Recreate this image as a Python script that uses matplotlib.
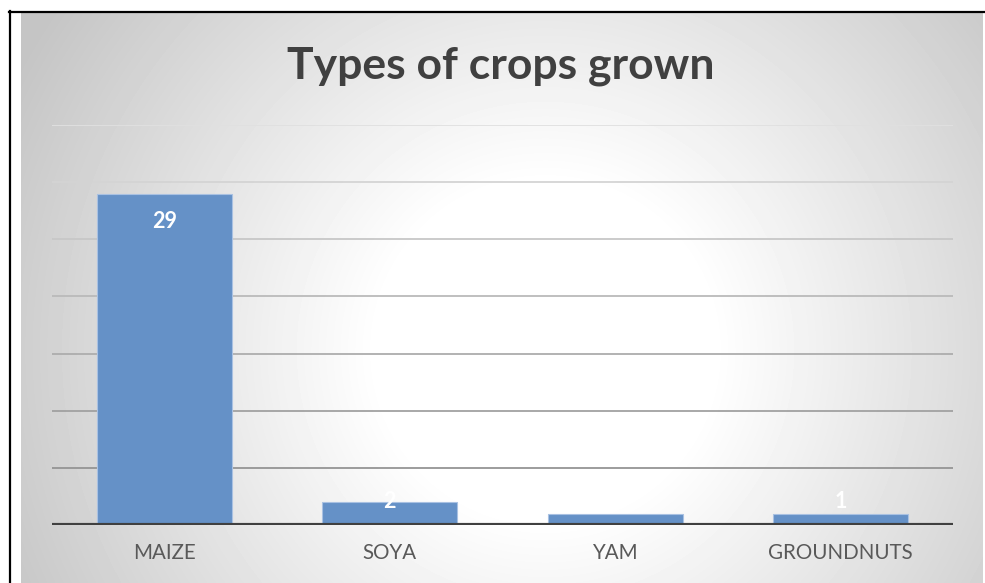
import numpy as np
import matplotlib.pyplot as plt
from matplotlib.lines import Line2D

crops = ["MAIZE", "SOYA", "YAM", "GROUNDNUTS"]
counts = [29, 2, 1, 1]
grid_levels = [5, 10, 15, 20, 25, 30, 35]

W, H = 985, 583
fig = plt.figure(figsize=(W / 100, H / 100), dpi=100)
fig.patch.set_facecolor("white")

# radial gradient background, white in the middle, grey to the edges
bg = fig.add_axes([21 / W, 0, (983 - 21) / W, (H - 13) / H], zorder=0)
yy, xx = np.mgrid[13:H, 21:983]
r = np.sqrt((xx - 545.0) ** 2 + (yy - 350.0) ** 2) / 600.0
v = 1 - 0.23 * np.clip((r - 0.28) / 0.72, 0, 1)
bg.imshow(v, cmap="gray", vmin=0, vmax=1, aspect="auto", interpolation="bilinear")
bg.axis("off")

# black frame on the left and top
fig.add_artist(Line2D([9.5 / W, 9.5 / W], [0, 1 - 11 / H], color="black", lw=1.6))
fig.add_artist(Line2D([9 / W, 984 / W], [1 - 11.5 / H, 1 - 11.5 / H], color="black", lw=1.6))

ax = fig.add_axes([52 / W, (H - 525) / H, 901 / W, 400 / H], zorder=1)
ax.patch.set_alpha(0)

x = np.arange(len(crops))
ax.set_xlim(-0.5, len(crops) - 0.5)
ax.set_ylim(0, 35)

# gridlines get darker lower down, like the original
shades = np.linspace(0.58, 0.88, len(grid_levels))
for lvl, s in zip(grid_levels, shades):
    ax.axhline(lvl, color=(s, s, s), lw=1.3, zorder=1)

bars = ax.bar(x, counts, width=0.6, color="#6591c7", edgecolor="#a9c1e2", linewidth=0.8, zorder=2)
ax.axhline(0, color="#404040", lw=3, zorder=3)

for xi, c in zip(x, counts):
    if c > 5:
        ax.annotate(str(c), (xi, c), xytext=(0, -34 * 0.72), textcoords="offset points",
                    ha="center", va="baseline", color="white", fontsize=15.5,
                    fontweight="bold", family="Lato", zorder=4)
    else:
        ax.annotate(str(c), (xi, 0), xytext=(0, 17 * 0.72), textcoords="offset points",
                    ha="center", va="baseline", color="white", fontsize=15.5,
                    fontweight="bold", family="Lato", zorder=4)

ax.set_xticks(x)
ax.set_xticklabels(crops, family="Lato", fontsize=14.8, color="#595959")
ax.tick_params(axis="x", length=0, pad=13)
ax.set_yticks([])
for sp in ax.spines.values():
    sp.set_visible(False)

fig.text(501 / W, 1 - 79 / H, "Types of crops grown", ha="center", va="baseline",
         fontsize=32, fontweight="bold", family="Lato", color="#404040")

fig.savefig("out.png", dpi=100)
